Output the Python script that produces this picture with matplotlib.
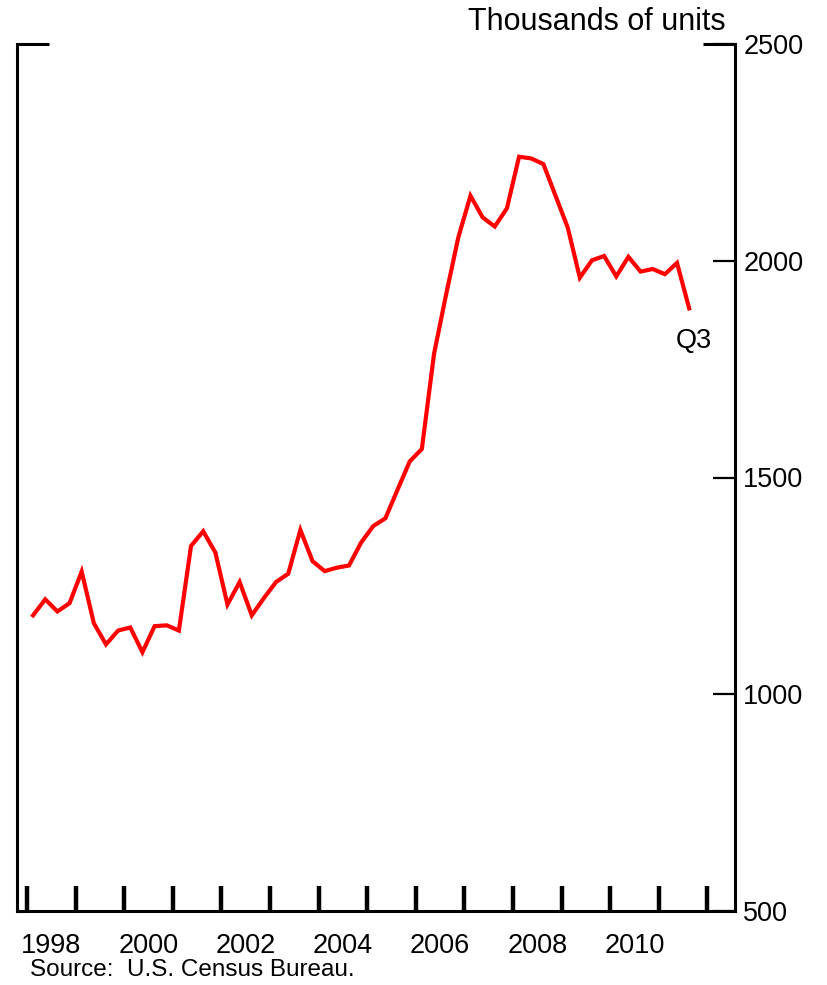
import matplotlib
matplotlib.use("Agg")
import matplotlib.pyplot as plt
import numpy as np

plt.rcParams['font.family'] = ['Liberation Sans', 'DejaVu Sans']

# Quarterly data, 1998 Q1 .. 2011 Q3 (thousands of units)
start_year = 1998
values = [
    1182, 1219, 1191, 1210,   # 1998
    1283, 1164, 1115, 1147,   # 1999
    1154, 1097, 1157, 1159,   # 2000
    1147, 1342, 1376, 1327,   # 2001
    1207, 1259, 1182, 1222,   # 2002
    1259, 1278, 1379, 1307,   # 2003
    1284, 1292, 1297, 1350,   # 2004
    1388, 1406, 1472, 1537,   # 2005
    1566, 1785, 1923, 2054,   # 2006
    2150, 2100, 2079, 2121,   # 2007
    2240, 2236, 2223, 2150,   # 2008
    2077, 1961, 2001, 2011,   # 2009
    1964, 2009, 1975, 1981,   # 2010
    1969, 1995, 1890,         # 2011
]
year_ticks = list(range(1998, 2013))
year_labels = ['1998', '2000', '2002', '2004', '2006', '2008', '2010']
y_ticks = [500, 1000, 1500, 2000, 2500]

x = [start_year + i / 4 + 0.125 for i in range(len(values))]

fig = plt.figure(figsize=(8.27, 9.85), dpi=100)
ax = fig.add_axes([17 / 827, 1 - 911 / 985, (735 - 17) / 827, (911 - 44) / 985])

ax.plot(x, values, color='#ff0000', lw=3.0, solid_joinstyle='miter')

ax.set_xlim(1997.794, 2012.568)
ax.set_ylim(500, 2500)

for s in ['left', 'bottom', 'right']:
    ax.spines[s].set_linewidth(2.2)
    ax.spines[s].set_color('black')
ax.spines['top'].set_visible(False)

# y axis on the right
ax.yaxis.tick_right()
ax.set_yticks(y_ticks)
ax.set_yticklabels([str(v) for v in y_ticks])
ax.tick_params(axis='y', which='major', direction='in', length=16, width=1.6,
               pad=6, labelsize=19.5, right=True, left=False)

# corner ticks at top
ax.plot([1997.794, 1997.794 + 32 / 48.6], [2500, 2500], color='black', lw=2.2,
        clip_on=False, solid_capstyle='butt')
ax.plot([2012.568 - 32 / 48.6, 2012.568], [2500, 2500], color='black', lw=2.2,
        clip_on=False, solid_capstyle='butt')

# x axis: year ticks, labels mid-year every 2 years
ax.set_xticks(year_ticks)
ax.set_xticklabels([''] * len(year_ticks))
ax.tick_params(axis='x', which='major', direction='in', length=18, width=3.2)
ax.set_xticks([int(l) + 0.5 for l in year_labels], minor=True)
ax.set_xticklabels(year_labels, minor=True)
ax.tick_params(axis='x', which='minor', length=0, pad=16, labelsize=19.5)

ax.text(1.0 - 9 / 718, 1.0 + 22 / 867, 'Thousands of units', transform=ax.transAxes,
        ha='right', va='center', fontsize=22)
ax.text(x[-1] + 0.1, 1845, 'Q3', ha='center', va='top', fontsize=19.5)

fig.text(30 / 827, 1 - 970 / 985, 'Source:  U.S. Census Bureau.', ha='left', va='center',
         fontsize=17.5)

fig.savefig('out.png', dpi=100)
